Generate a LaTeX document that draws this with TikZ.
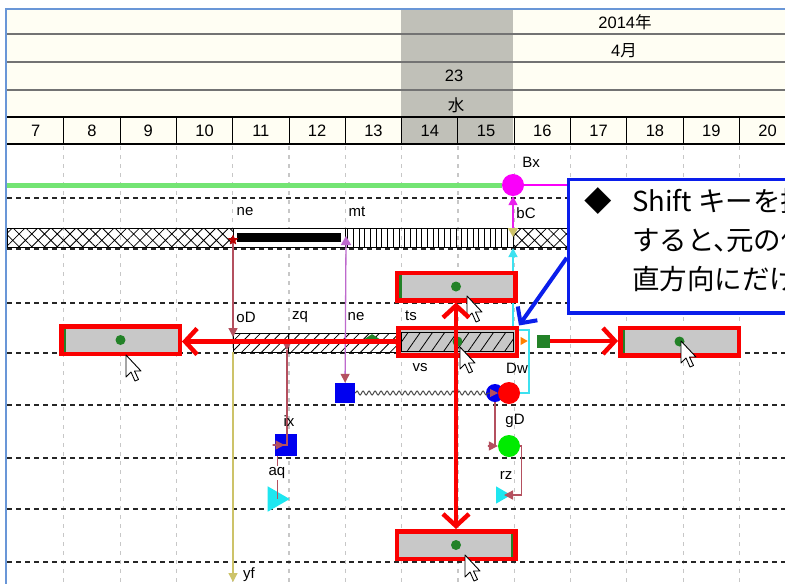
\documentclass[tikz,border=0pt]{standalone}
\usepackage{fontspec}
\setmainfont{Liberation Sans}
\newfontfamily\jpfont{Noto Sans CJK JP}
\usepackage{tikz}
\usetikzlibrary{arrows.meta,calc,patterns.meta,decorations.pathmorphing,shapes.geometric}
\definecolor{framesky}{RGB}{105,150,215}
\definecolor{headcream}{RGB}{255,254,243}
\definecolor{todaygrey}{RGB}{192,192,184}
\definecolor{markred}{RGB}{250,0,0}
\definecolor{boxgrey}{RGB}{200,200,200}
\definecolor{leafgreen}{RGB}{35,130,40}
\definecolor{noteblue}{RGB}{10,30,235}
\definecolor{railgreen}{RGB}{115,228,115}
\definecolor{linkrose}{RGB}{180,80,95}
\definecolor{linkpurple}{RGB}{190,105,205}
\definecolor{linkkhaki}{RGB}{205,195,105}
\definecolor{linkcyan}{RGB}{60,225,240}
\definecolor{pinkdot}{RGB}{250,0,250}
\definecolor{sqblue}{RGB}{0,0,240}
\definecolor{dotgreen}{RGB}{0,235,0}
\definecolor{tricyan}{RGB}{30,230,240}
\tikzset{
    tag/.style={font=\fontsize{15}{15}\selectfont, inner sep=0pt},
    hourtag/.style={font=\fontsize{16.5}{17}\selectfont, inner sep=0pt},
    notetag/.style={font=\jpfont\fontsize{27.5}{30}\selectfont, inner sep=0pt, anchor=west},
    rowline/.style={black!85, line width=1.4pt, dash pattern=on 5pt off 4pt},
    gridline/.style={black!22, line width=1.2pt, dash pattern=on 4pt off 5pt},
    % a moved copy of the bar, red frame
    movebox/.style={
        draw=markred,
        line width=4.5pt,
        fill=boxgrey,
        minimum width=118.5pt,
        minimum height=27.5pt,
        inner sep=0pt
    },
    start edge/.style={
        path picture={
            \draw[leafgreen, line width=2.5pt]
              ([xshift=3.5pt]path picture bounding box.north west) -- ([xshift=3.5pt]path picture bounding box.south west);
        }
    },
    end edge/.style={
        path picture={
            \draw[leafgreen, line width=2.5pt]
              ([xshift=-3.5pt]path picture bounding box.north east) -- ([xshift=-3.5pt]path picture bounding box.south east);
        }
    },
    handle/.style={circle, fill=leafgreen, minimum size=10pt, inner sep=0pt},
    moveto/.style={markred, line width=4.5pt, >={Straight Barb[length=12pt,width=26pt]}, ->},
    link/.style={line width=1.3pt, >={Triangle[length=9pt,width=9pt]}, ->},
    marksq/.style={rectangle, minimum size=#1, inner sep=0pt},
    markdot/.style={circle, minimum size=#1, inner sep=0pt},
    marktri/.style={isosceles triangle, isosceles triangle apex angle=60, minimum size=#1, inner sep=0pt},
    pointer/.pic={
        \draw[fill=white, line width=0.9pt, line join=round]
          (0,0) -- (0,22) -- (5,17) -- (9,26) -- (12.5,24.5) -- (8.5,16) -- (15,16) -- cycle;
    },
}
\begin{document}
\begin{tikzpicture}[x=1pt, y=-1pt]
    \useasboundingbox (0,0) rectangle (785,584);
    \clip (0,0) rectangle (785,584);
    \fill[white] (0,0) rectangle (785,584);

    % Header, cream rows and the grey day column
    \fill[headcream] (7,9) rectangle (785,144);
    \fill[todaygrey] (401,9) rectangle (513,144);
    \foreach \y in {33.5,62,89.5}
      \draw[black!55, line width=2pt] (7,\y) -- (785,\y);
    \draw[black, line width=1.2pt] (7,117) -- (785,117);
    \draw[black, line width=2.2pt] (7,144) -- (785,144);
    \node[hourtag] (year) at (625,22) {2014{\jpfont 年}};
    \node[hourtag] (month) at (624,51) {4{\jpfont 月}};
    \node[hourtag] (day) at (454,76) {23};
    \node[hourtag] (wday) at (456,105) {\jpfont 水};
    % Hours
    \foreach \h [count=\k from 0] in {7,...,20} {
      \node[hourtag] (h\h) at ({35.65+56.3*\k},131) {\h};
      \draw[black, line width=1pt] ({63.8+56.3*\k},117) -- ({63.8+56.3*\k},144);
    }
    % Frame
    \draw[framesky, line width=2.2pt] (785,9) -- (6,9) -- (6,584);

    % Body grid
    \foreach \k in {1,...,13}
      \draw[gridline] ({7.5+56.3*\k},146) -- ({7.5+56.3*\k},584);
    \foreach \y in {198,249,303,353,405,458,509,562}
      \draw[rowline] (7,\y) -- (785,\y);

    % Top line with Bx
    \node[markdot=22pt, fill=pinkdot] (Bx) at (513,185) {};
    \draw[railgreen, line width=5pt] (7,185) -- (Bx.west);
    \draw[pinkdot, line width=2.5pt] (Bx.east) -- (600,185);

    % Row 1 bars
    \draw[line width=0.9pt, pattern={Hatch[angle=45,distance=9pt,line width=0.8pt]}] (7,228) rectangle (233,247);
    \draw[line width=0.9pt, fill=white] (233,228) rectangle (345,247);
    \fill (237,233) rectangle (341,242);
    \draw[line width=0.9pt, pattern={Lines[angle=90,distance=5.7pt,line width=1pt]}] (345,228) rectangle (513,247);
    \draw[line width=0.9pt, pattern={Hatch[angle=45,distance=9pt,line width=0.8pt]}] (513,228) rectangle (620,247);

    % Row 2 bar, split at zq and ne
    \draw[line width=0.9pt, pattern={Lines[angle=45,distance=7pt,line width=0.8pt]}] (233,333) rectangle (401,352);
    \draw[line width=0.9pt] (288.5,333) -- (288.5,352) (345,333) -- (345,352);

    % Event marks
    \node[star, star points=5, star point ratio=2.2, fill=markred!75!black, minimum size=11pt, inner sep=0pt] (neA) at (233,240) {};
    \node[marktri=9pt, shape border rotate=90, fill=linkpurple] (mtA) at (346,242) {};
    \node[marktri=9pt, shape border rotate=-90, fill=linkkhaki] (bCm) at (513,231) {};
    \node[marktri=9pt, shape border rotate=-90, fill=linkrose] (zqA) at (287,344) {};
    \node[diamond, fill=leafgreen, minimum width=15pt, minimum height=10pt, inner sep=0pt] (neB) at (372,339) {};
    \node[marktri=7pt, fill=orange] (tsA) at (398,341) {};
    \node[marktri=7pt, fill=orange] (DwA) at (523,341) {};
    \node[marksq=13pt, fill=leafgreen] (Dwm) at (543,341) {};
    \coordinate (oDin) at (233,337);
    \coordinate (oDout) at (233,352);
    \coordinate (yf) at (233,582);
    \coordinate (bCin) at (513,248);

    % Lower marks
    \node[marksq=20pt, fill=sqblue] (mtB) at (345,393) {};
    \node[marksq=22pt, fill=sqblue] (ix) at (285.5,445) {};
    \node[marktri=22pt, fill=tricyan] (aq) at (275,499) {};
    \node[markdot=18pt, fill=sqblue] (vsB) at (495,393) {};
    \node[markdot=22pt, fill=red] (Dwr) at (509,393) {};
    \node[markdot=22pt, fill=dotgreen] (gD) at (509,446) {};
    \node[marktri=15pt, fill=tricyan] (rz) at (501,495) {};

    % Connectors
    \draw[link, linkrose] (neA) -- (oDin);
    \draw[link, linkkhaki] (oDout) -- (yf);
    \draw[link, linkpurple, -{Triangle[length=9pt,width=9pt,color=linkrose]}] (mtA) -- (mtB);
    \draw[link, linkrose] (zqA) |- ([xshift=-13pt]ix.center) -- ([xshift=-1pt]ix.center);
    \draw[linkrose, line width=1.3pt] ([xshift=-8pt]ix.south) -- ([xshift=-8pt]ix.south |- aq.center);
    \draw[link, linkrose] (vsB.south) |- ([xshift=-10pt]gD.west) -- (gD.west);
    \draw[link, linkrose] (gD.east) -- ++(1,0) |- ([xshift=3pt]rz.center);
    \draw[link, linkcyan] (Dwr.east) -| (529,330) -| (bCin);
    \draw[link, pinkdot!70!linkpurple] (bCm) -- (Bx);
    \draw[black!70, line width=1pt, decorate,
      decoration={snake, amplitude=2pt, segment length=6pt, post length=9pt},
      -{Triangle[length=8pt,width=8pt,color=linkrose]}] (mtB.east) -- ([xshift=3pt]vsB.center);

    % Moved copies and the bar itself
    \node[movebox, start edge] (lbox) at (120.5,340) {};
    \node[movebox, start edge] (tbox) at (456,286.5) {};
    \node[movebox] (cbox) at (457.5,341.5) {};
    \node[movebox, start edge] (rbox) at (679.5,341.5) {};
    \node[movebox, end edge] (bbox) at (456,545) {};
    \draw[line width=0.9pt, pattern={Lines[angle=55,distance=10pt,line width=0.8pt]}] (401.5,332) rectangle (513.5,351);
    \foreach \b in {lbox,tbox,cbox,rbox,bbox}
      \node[handle] (\b-dot) at (\b) {};

    % Labels
    \node[tag] (tBx) at (531,162) {Bx};
    \node[tag] (tbC) at (526,213) {bC};
    \node[tag] (tne) at (245,212) {ne};
    \node[tag] (tmt) at (357,212) {mt};
    \node[tag] (toD) at (246,317) {oD};
    \node[tag] (tzq) at (300,317) {zq};
    \node[tag] (tne2) at (356,317) {ne};
    \node[tag] (tts) at (411,316) {ts};
    \node[tag] (tvs) at (420,368) {vs};
    \node[tag] (tDw) at (517,368) {Dw};
    \node[tag] (tix) at (289,421) {ix};
    \node[tag] (tgD) at (515,421) {gD};
    \node[tag, fill=white, inner sep=1pt] (taq) at (277,473) {aq};
    \node[tag] (trz) at (506,475) {rz};
    \node[tag] (tyf) at (249,575) {yf};

    % Mouse pointers
    \pic at (126,355) {pointer};
    \pic at (467,296) {pointer};
    \pic at (460,347) {pointer};
    \pic at (681,341) {pointer};
    \pic at (465,555) {pointer};

    % Note, cut by the right edge
    \node[draw=noteblue, line width=3.5pt, fill=white, anchor=north west,
      minimum width=240pt, minimum height=133.5pt, inner sep=0pt] (note) at (566.75,177.75) {};
    \node[notetag, anchor=center] (diam) at (598,201) {◆};
    \node[notetag] (line1) at (632,201) {Shift キーを押};
    \node[notetag] (line2) at (632,240) {すると、\kern-15pt 元の位};
    \node[notetag] (line3) at (632,279) {直方向にだけ};
    \draw[noteblue, line width=4pt, >={Straight Barb[length=12pt,width=24pt]}, ->]
      ($(note.north west)+(0,80)$) -- (cbox.north east);

    % Red moves
    \draw[moveto] (cbox.west) -- (cbox.west -| lbox.east);
    \draw[moveto] (Dwm.east) -- (Dwm.east -| rbox.west);
    \draw[moveto, <->] (tbox.south) -- (bbox.north);
\end{tikzpicture}
\end{document}
